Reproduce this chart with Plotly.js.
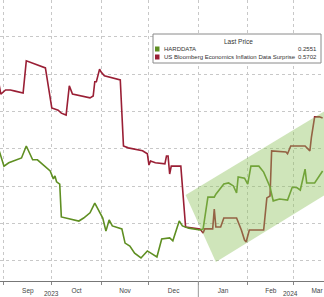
<!DOCTYPE html>
<html>
<head>
<meta charset="utf-8">
<script src="https://cdn.plot.ly/plotly-3.0.1.min.js"></script>
<style>
html,body{margin:0;padding:0;background:#fff;}
#chart{width:324px;height:297px;}
</style>
</head>
<body>
<div id="chart"></div>
<script>
// US Bloomberg Economics Inflation Data Surprise (grid units, axis scale hidden in source)
const surpriseDates = ["2023-08-29","2023-08-30","2023-09-02","2023-09-05","2023-09-08","2023-09-11","2023-09-13","2023-09-15","2023-09-27","2023-10-01","2023-10-05","2023-10-07","2023-10-10","2023-10-12","2023-10-14","2023-10-25","2023-10-27","2023-10-28","2023-10-29","2023-10-31","2023-11-01","2023-11-03","2023-11-13","2023-11-15","2023-11-18","2023-11-27","2023-11-30","2023-12-01","2023-12-02","2023-12-05","2023-12-11","2023-12-12","2023-12-13","2023-12-14","2023-12-15","2023-12-21","2023-12-24","2024-01-02","2024-01-04","2024-01-05","2024-01-10","2024-01-11","2024-01-12","2024-01-15","2024-01-17","2024-01-25","2024-01-28","2024-01-30","2024-01-31","2024-02-02","2024-02-11","2024-02-13","2024-02-15","2024-02-16","2024-02-25","2024-02-26","2024-02-28","2024-03-08","2024-03-11","2024-03-12","2024-03-13","2024-03-14","2024-03-17","2024-03-19"];
const surpriseValues = [4.71,4.47,4.58,4.58,4.55,4.53,4.50,5.36,5.17,4.10,4.04,3.96,3.91,4.69,4.47,4.37,4.42,4.80,4.80,5.14,5.06,4.96,4.85,3.08,3.03,2.95,2.87,2.57,2.68,2.63,2.60,2.81,2.81,2.33,2.54,2.54,0.91,0.86,0.75,0.86,0.86,1.39,0.91,0.91,1.15,1.15,0.83,0.56,0.51,0.83,0.83,1.69,1.74,2.95,2.92,2.87,3.08,3.08,2.95,3.32,3.59,3.86,3.86,3.83];

// HARDDATA
const hardDates = ["2023-08-29","2023-09-01","2023-09-04","2023-09-07","2023-09-12","2023-09-15","2023-09-19","2023-09-22","2023-09-25","2023-09-27","2023-09-30","2023-10-02","2023-10-03","2023-10-04","2023-10-06","2023-10-07","2023-10-12","2023-10-18","2023-10-21","2023-10-25","2023-10-28","2023-10-31","2023-11-02","2023-11-04","2023-11-06","2023-11-08","2023-11-14","2023-11-16","2023-11-19","2023-11-22","2023-11-26","2023-11-30","2023-12-03","2023-12-06","2023-12-09","2023-12-14","2023-12-16","2023-12-18","2023-12-20","2023-12-22","2023-12-26","2024-01-02","2024-01-04","2024-01-07","2024-01-11","2024-01-12","2024-01-17","2024-01-20","2024-01-23","2024-01-25","2024-01-26","2024-01-30","2024-02-01","2024-02-03","2024-02-08","2024-02-11","2024-02-15","2024-02-17","2024-02-21","2024-02-26","2024-02-29","2024-03-03","2024-03-05","2024-03-08","2024-03-09","2024-03-14","2024-03-19"];
const hardValues = [2.95,2.54,2.63,2.68,2.76,3.08,2.71,2.71,2.60,2.54,2.41,2.20,2.28,2.12,2.06,1.18,1.13,1.07,1.15,1.29,1.55,1.29,1.15,0.80,1.10,0.94,0.86,0.48,0.40,0.21,0.08,0.27,0.19,0.11,0.59,0.62,0.54,0.80,1.07,0.94,0.88,0.83,0.86,1.71,1.71,1.79,2.06,2.09,2.01,1.82,2.25,2.22,2.06,2.54,2.54,2.38,1.98,1.61,1.66,1.63,1.98,1.96,1.90,2.46,2.09,2.09,2.41];

// Up-trend channel drawn over the chart
const channelDates = ["2023-12-24","2024-01-12","2024-03-22","2024-03-22","2023-12-24"];
const channelValues = [1.77,-0.03,1.81,4.06,1.77];

// Legend content
const legendTitle = "Last Price";
const seriesNames = ["HARDDATA","US Bloomberg Economics Inflation Data Surprise"];
const lastPrices = ["0.2551","0.5702"];
const yearLabels = ["2023","2024"];
const yearLabelDates = ["2023-10-01","2024-02-28"];

const RED = "#9a1f35";
const GREEN = "#5f8f22";
const FONT = "Liberation Sans, Arial, sans-serif";

const traces = [
  {x: surpriseDates, y: surpriseValues, type: "scatter", mode: "lines",
   line: {color: RED, width: 1.6}, hoverinfo: "skip", showlegend: false},
  {x: hardDates, y: hardValues, type: "scatter", mode: "lines",
   line: {color: GREEN, width: 1.6}, hoverinfo: "skip", showlegend: false},
  {x: channelDates, y: channelValues, type: "scatter", mode: "lines", fill: "toself",
   fillcolor: "rgba(140,192,90,0.42)", line: {width: 0}, hoverinfo: "skip", showlegend: false}
];

const ly = (px) => 1 - px / 281;
const lx = (px) => px / 324;

const shapes = [
  {type: "rect", xref: "paper", yref: "paper", x0: lx(153), x1: lx(321), y0: ly(63), y1: ly(34),
   line: {color: "#8a8a8a", width: 1}, fillcolor: "#ffffff", layer: "above"},
  {type: "rect", xref: "paper", yref: "paper", x0: lx(155), x1: lx(159.5), y0: ly(51.5), y1: ly(46.5),
   line: {width: 0}, fillcolor: GREEN, layer: "above"},
  {type: "rect", xref: "paper", yref: "paper", x0: lx(155), x1: lx(159.5), y0: ly(59.5), y1: ly(54.5),
   line: {width: 0}, fillcolor: RED, layer: "above"},
  {type: "line", xref: "x", yref: "paper", x0: "2024-01-01", x1: "2024-01-01", y0: 0, y1: -16/281,
   line: {color: "#999", width: 1}}
];

const annotations = [
  {xref: "paper", yref: "paper", x: lx(238), y: ly(42), text: legendTitle, showarrow: false,
   font: {family: FONT, size: 6.5, color: "#333"}, xanchor: "center", yanchor: "middle"},
  {xref: "paper", yref: "paper", x: lx(162), y: ly(49), text: seriesNames[0], showarrow: false,
   font: {family: FONT, size: 6, color: "#333"}, xanchor: "left", yanchor: "middle"},
  {xref: "paper", yref: "paper", x: lx(162), y: ly(57), text: seriesNames[1], showarrow: false,
   font: {family: FONT, size: 6, color: "#333"}, xanchor: "left", yanchor: "middle"},
  {xref: "paper", yref: "paper", x: lx(319), y: ly(49), text: lastPrices[0], showarrow: false,
   font: {family: FONT, size: 6, color: "#333"}, xanchor: "right", yanchor: "middle"},
  {xref: "paper", yref: "paper", x: lx(319), y: ly(57), text: lastPrices[1], showarrow: false,
   font: {family: FONT, size: 6, color: "#333"}, xanchor: "right", yanchor: "middle"},
  {xref: "x", yref: "paper", x: yearLabelDates[0], y: ly(293), text: yearLabels[0], showarrow: false,
   font: {family: FONT, size: 6.5, color: "#444"}, xanchor: "center", yanchor: "middle"},
  {xref: "x", yref: "paper", x: yearLabelDates[1], y: ly(293), text: yearLabels[1], showarrow: false,
   font: {family: FONT, size: 6.5, color: "#444"}, xanchor: "center", yanchor: "middle"}
];

const layout = {
  width: 324, height: 297,
  margin: {l: 0, r: 0, t: 0, b: 16, pad: 0},
  paper_bgcolor: "#ffffff", plot_bgcolor: "#ffffff",
  showlegend: false,
  xaxis: {
    type: "date",
    range: ["2023-08-29 12:00", "2024-03-19 21:00"],
    tick0: "2023-09-01", dtick: "M1",
    ticklabelmode: "period", tickformat: "%b",
    ticks: "outside", ticklen: 3, tickcolor: "#888",
    showline: true, linecolor: "#777", linewidth: 1,
    showgrid: true, gridcolor: "#c8c8c8", griddash: "dot", gridwidth: 1,
    tickfont: {family: FONT, size: 6.5, color: "#444"},
    zeroline: false, fixedrange: true
  },
  yaxis: {
    range: [-0.536, 6.99],
    tick0: 0, dtick: 1,
    showticklabels: false, ticks: "",
    showgrid: true, gridcolor: "#c8c8c8", griddash: "dot", gridwidth: 1,
    zeroline: false, showline: false, fixedrange: true
  },
  shapes: shapes,
  annotations: annotations
};

Plotly.newPlot("chart", traces, layout, {displayModeBar: false, staticPlot: true});
</script>
</body>
</html>
